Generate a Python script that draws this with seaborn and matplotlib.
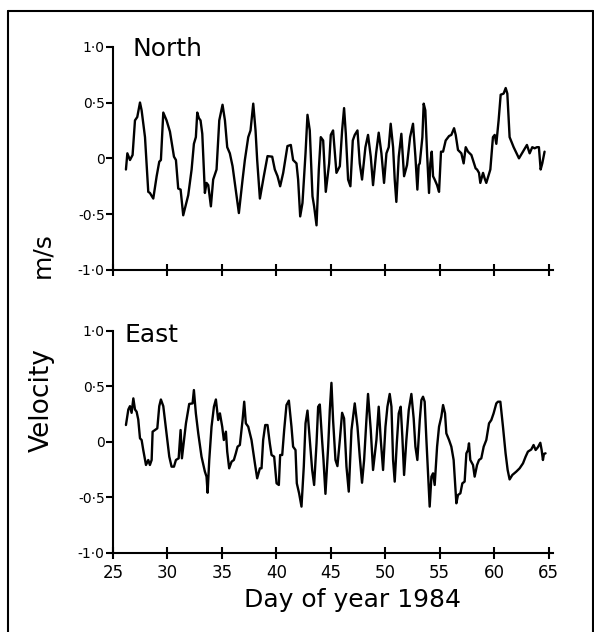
import matplotlib
matplotlib.use("Agg")
import matplotlib.pyplot as plt
from matplotlib.lines import Line2D
import numpy as np
import pandas as pd
import seaborn as sns

# values (day of year, velocity m/s)
north_day = [
    26.19, 26.32, 26.56, 26.80, 27.02, 27.23, 27.48, 27.63, 27.94, 28.24, 28.39, 28.70,
    29.01, 29.25, 29.40, 29.62, 29.92, 30.23, 30.60, 30.78, 30.99, 31.21, 31.45, 31.91,
    32.22, 32.43, 32.61, 32.74, 32.89, 33.04, 33.20, 33.35, 33.44, 33.59, 33.75, 33.99,
    34.20, 34.51, 34.76, 35.06, 35.28, 35.49, 35.73, 35.98, 36.19, 36.56, 36.90, 37.11,
    37.42, 37.63, 37.88, 38.09, 38.24, 38.49, 38.85,
    39.19, 39.62, 39.86, 40.11, 40.35, 40.63, 41.02, 41.33, 41.54, 41.85, 42.00, 42.19,
    42.40, 42.68, 42.86, 43.07, 43.32, 43.47, 43.69, 43.90, 44.08, 44.30, 44.54, 44.85,
    45.00, 45.21, 45.52, 45.83, 46.04, 46.22, 46.38, 46.59, 46.80, 47.02, 47.20, 47.45,
    47.66, 47.87, 48.18, 48.42, 48.67, 48.88, 49.16, 49.40, 49.65, 49.89, 50.11, 50.32,
    50.50, 50.72, 50.87, 51.02, 51.24, 51.48, 51.73, 52.00, 52.28, 52.55, 52.77, 52.95,
    53.07,
    53.17, 53.41, 53.53, 53.68, 53.84, 54.02, 54.14, 54.27, 54.39, 54.54, 54.76, 54.94,
    55.12, 55.31, 55.55, 55.86, 56.07, 56.32, 56.47, 56.68, 56.99, 57.20, 57.39, 57.60,
    57.91, 58.06, 58.30, 58.43, 58.61, 58.73, 58.98, 59.13, 59.28, 59.65, 59.89, 60.05,
    60.20, 60.41, 60.60, 60.87, 61.06, 61.21, 61.42, 61.79, 62.28, 62.65, 63.01, 63.26,
    63.50, 63.72, 63.93, 64.11, 64.27, 64.42, 64.63,
]
north_vel = [
    -0.10, 0.045, -0.015, 0.03, 0.34, 0.37, 0.50, 0.43, 0.19, -0.30, -0.31, -0.36,
    -0.16, -0.03, -0.015, 0.41, 0.34, 0.24, 0.015, -0.015, -0.27, -0.28, -0.51, -0.33,
    -0.10, 0.13, 0.19, 0.41, 0.36, 0.34, 0.22, -0.10, -0.31, -0.22, -0.24, -0.43,
    -0.19, -0.10, 0.34, 0.48, 0.34, 0.10, 0.045, -0.07, -0.22, -0.49, -0.19, -0.015,
    0.19, 0.25, 0.49, 0.25, -0.015, -0.36, -0.16,
    0.02, 0.015, -0.10, -0.16, -0.25, -0.13, 0.11, 0.12, -0.015, -0.045, -0.19, -0.52,
    -0.40, 0.045, 0.39, 0.25, -0.34, -0.43, -0.60, -0.10, 0.19, 0.16, -0.30, -0.045,
    0.21, 0.25, -0.13, -0.07, 0.25, 0.45, 0.22, -0.19, -0.25, 0.16, 0.21, 0.25,
    -0.045, -0.19, 0.10, 0.21, 0.015, -0.24, 0.045, 0.23, 0.045, -0.22, 0.045, 0.10,
    0.31, 0.10, -0.19, -0.39, 0.015, 0.22, -0.16, -0.06, 0.19, 0.31, 0.015, -0.28,
    -0.06,
    -0.045, 0.19, 0.49, 0.43, 0.045, -0.31, -0.045, 0.06, -0.16, -0.19, -0.24, -0.30,
    0.06, 0.06, 0.16, 0.20, 0.21, 0.27, 0.21, 0.075, 0.045, -0.045, 0.10, 0.06,
    0.03, -0.015, -0.09, -0.10, -0.13, -0.22, -0.13, -0.18, -0.22, -0.10, 0.19, 0.21,
    0.13, 0.34, 0.57, 0.58, 0.63, 0.58, 0.19, 0.10, 0.0, 0.06, 0.12, 0.045,
    0.10, 0.09, 0.10, 0.10, -0.10, -0.045, 0.06,
]

east_day = [
    26.19, 26.41, 26.56, 26.71, 26.87, 27.02, 27.17, 27.32, 27.48, 27.63, 27.78, 28.03,
    28.24, 28.39, 28.55, 28.64, 28.85, 29.07, 29.25, 29.40, 29.62, 29.92, 30.17, 30.38,
    30.60, 30.78, 31.03, 31.21, 31.33, 31.45, 31.70, 32.00, 32.31, 32.43, 32.61, 32.83,
    33.13, 33.44, 33.59, 33.69, 33.84, 34.05, 34.27, 34.45, 34.66, 34.82, 35.03, 35.18,
    35.37, 35.49, 35.67, 35.89, 36.10, 36.28, 36.44, 36.65, 36.90, 37.05, 37.20, 37.42,
    37.72, 38.03, 38.24, 38.49, 38.64, 38.79, 38.98,
    39.19, 39.40, 39.56, 39.80, 40.02, 40.23, 40.35, 40.54, 40.72, 40.93, 41.15, 41.39,
    41.54, 41.76, 41.88, 42.09, 42.31, 42.52, 42.68, 42.86, 43.07, 43.29, 43.47, 43.69,
    43.84, 43.99, 44.20, 44.33, 44.51, 44.76, 44.91, 45.06, 45.21, 45.43, 45.61, 45.83,
    46.04, 46.22, 46.44, 46.65, 46.90, 47.20, 47.45, 47.66, 47.87, 48.06, 48.27, 48.42,
    48.67, 48.88, 49.19, 49.40, 49.59, 49.80, 50.02, 50.20, 50.41, 50.57, 50.72, 50.87,
    51.06, 51.24, 51.42, 51.57, 51.73, 51.94, 52.16, 52.40, 52.61, 52.77, 52.95, 53.17,
    53.32, 53.47, 53.62, 53.78, 53.93, 54.08, 54.24, 54.39, 54.54, 54.76, 54.94, 55.15,
    55.31, 55.49, 55.61, 55.86, 56.07, 56.28, 56.53, 56.68, 56.90, 57.08, 57.29, 57.45,
    57.60, 57.69, 57.81, 58.06, 58.21, 58.43, 58.61, 58.82, 59.04, 59.28, 59.53, 59.74,
    59.95, 60.20, 60.35, 60.57, 60.81, 61.05, 61.24, 61.42, 61.67, 62.03, 62.34, 62.65,
    62.89, 63.10, 63.41, 63.62, 63.81, 64.02, 64.24, 64.36, 64.48, 64.57, 64.72,
]
east_vel = [
    0.15, 0.29, 0.32, 0.26, 0.39, 0.29, 0.27, 0.20, 0.03, 0.015, -0.075, -0.21,
    -0.165, -0.21, -0.165, 0.09, 0.105, 0.12, 0.32, 0.38, 0.32, 0.075, -0.135, -0.225,
    -0.225, -0.165, -0.15, 0.105, -0.15, -0.045, 0.165, 0.34, 0.345, 0.465, 0.255, 0.075,
    -0.135, -0.27, -0.315, -0.46, -0.165, 0.135, 0.315, 0.38, 0.195, 0.255, 0.135, 0.015,
    0.09, -0.09, -0.24, -0.18, -0.165, -0.105, -0.045, -0.03, 0.195, 0.36, 0.165, 0.135,
    0.015, -0.195, -0.33, -0.24, -0.24, 0.015, 0.15,
    0.15, -0.015, -0.12, -0.135, -0.375, -0.39, -0.12, -0.12, 0.105, 0.33, 0.37, 0.135,
    -0.045, -0.075, -0.375, -0.465, -0.585, -0.225, 0.165, 0.28, 0.015, -0.255, -0.39, -0.015,
    0.315, 0.335, 0.015, -0.165, -0.47, -0.045, 0.285, 0.53, 0.195, -0.165, -0.22, 0.015,
    0.26, 0.21, -0.225, -0.45, 0.105, 0.345, 0.135, -0.135, -0.37, -0.165, 0.195, 0.43,
    0.105, -0.255, 0.015, 0.315, 0.015, -0.255, 0.135, 0.315, 0.43, 0.315, -0.165, -0.36,
    -0.015, 0.255, 0.315, 0.045, -0.30, 0.015, 0.285, 0.43, 0.21, -0.045, -0.165, 0.195,
    0.375, 0.405, 0.36, 0.015, -0.285, -0.585, -0.315, -0.285, -0.39, -0.045, 0.135, 0.225,
    0.33, 0.255, 0.075, 0.015, -0.045, -0.165, -0.555, -0.48, -0.465, -0.375, -0.36, -0.105,
    -0.075, -0.015, -0.165, -0.21, -0.315, -0.21, -0.165, -0.15, -0.045, 0.015, 0.165, 0.195,
    0.255, 0.345, 0.36, 0.36, 0.135, -0.105, -0.255, -0.34, -0.30, -0.27, -0.24, -0.195,
    -0.135, -0.09, -0.07, -0.03, -0.075, -0.05, -0.01, -0.075, -0.165, -0.11, -0.105,
]

x_ticks = [25, 30, 35, 40, 45, 50, 55, 60, 65]
y_ticks = [-1.0, -0.5, 0.0, 0.5, 1.0]
y_tick_labels = ["-1\u00b70", "-0\u00b75", "0", "0\u00b75", "1\u00b70"]

sns.set_style("ticks")
plt.rcParams["font.family"] = ["DejaVu Sans"]
plt.rcParams.update({
    "text.color": "black", "axes.labelcolor": "black",
    "xtick.color": "black", "ytick.color": "black", "axes.edgecolor": "black",
})

fig = plt.figure(figsize=(5.94, 6.32), dpi=100)
ax_n = fig.add_axes([0.1902, 0.5728, 0.7407, 0.3533])
ax_e = fig.add_axes([0.1902, 0.1255, 0.7407, 0.3513])

panels = [
    (ax_n, north_day, north_vel, "North", (26.8, 0.92)),
    (ax_e, east_day, east_vel, "East", (26.1, 0.90)),
]
for ax, days, vel, name, pos in panels:
    df = pd.DataFrame({"day": days, "vel": vel})
    sns.lineplot(data=df, x="day", y="vel", ax=ax, color="black",
                 linewidth=1.7, estimator=None, sort=False)
    ax.set_xlim(25, 65.4)
    ax.set_ylim(-1, 1)
    ax.set_xlabel("")
    ax.set_ylabel("")
    for s in ["top", "right"]:
        ax.spines[s].set_visible(False)
    for s in ["left", "bottom"]:
        ax.spines[s].set_linewidth(1.5)
    ax.set_xticks(x_ticks)
    ax.set_yticks(y_ticks)
    ax.set_yticklabels(y_tick_labels)
    ax.tick_params(axis="x", direction="inout", length=9, width=1.5, labelsize=12)
    ax.tick_params(axis="y", direction="out", length=5, width=1.5, labelsize=10, pad=1)
    ax.text(pos[0], pos[1], name, fontsize=18, va="baseline", ha="left", clip_on=False)

ax_n.tick_params(axis="x", labelbottom=False)
ax_e.set_xlabel("Day of year 1984", fontsize=18)
ax_e.xaxis.set_label_coords(0.545, -0.16)

fig.text(0.071, 0.367, "Velocity", rotation=90, fontsize=19, ha="center", va="center")
fig.text(0.071, 0.597, "m/s", rotation=90, fontsize=18, ha="center", va="center")

# outer frame of the scanned figure
fig.add_artist(Line2D([0.0135, 0.0135], [0.0, 0.9826], color="black", linewidth=1.5))
fig.add_artist(Line2D([0.0135, 0.998], [0.9826, 0.9826], color="black", linewidth=1.5))
fig.add_artist(Line2D([0.998, 0.998], [0.0, 0.9826], color="black", linewidth=1.5))

fig.savefig("out.png", dpi=100)
